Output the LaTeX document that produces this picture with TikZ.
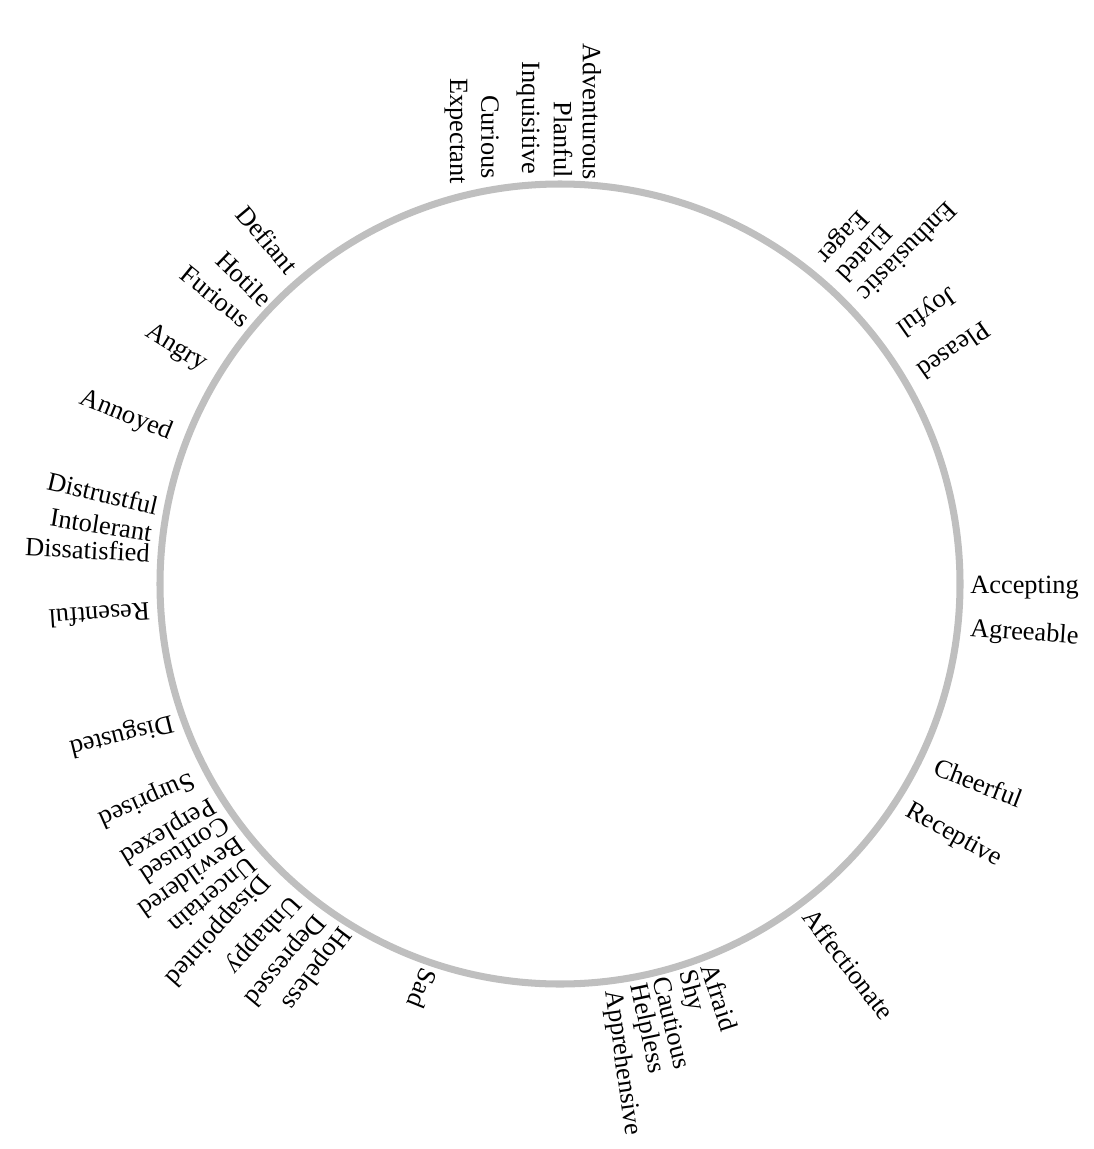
\documentclass[tikz,border=0pt]{standalone}
\usepackage{fontspec}
\setmainfont{Liberation Serif}
\usepackage{tikz}

\begin{document}
\begin{tikzpicture}[x=0.02cm, y=-0.02cm, line join=round, line cap=round]
	\def\cx{560} \def\cy{584} \def\R{400} % circle, in pixels of the page
	\tikzset{word/.style={inner sep=0pt, text=black, font=\fontsize{15}{17}\selectfont}}

	\useasboundingbox (0,0) rectangle (1093,1149);
	\draw[gray!50, line width=4pt] (\cx,\cy) circle (\R);

	% words read towards the centre: their end is on the circle
	\foreach \txt/\x/\y/\r [count=\i] in {Adventurous/592/180/-90, Planful/563/178/-90,
		Inquisitive/528/175/-90, Curious/490/179/-90, Expectant/456/184/-90,
		Defiant/293/270/-50, Hotile/268/302/-44, Furious/247/322/-39,
		Angry/205/366/-32, Annoyed/171/434/-22,
		Distrustful/158/506/-13, Intolerant/152/533/-9, Dissatisfied/150/553/-3,
		Eager/821/259/-133, Elated/842/279/-133, Enthusiastic/862/298/-135,
		Joyful/899/330/-145, Pleased/921/374/-145}
		\node[word, anchor=east, rotate=\r] (in\i) at (\x,\y) {\txt};

	% words read away from the centre: their start is on the circle
	\foreach \txt/\x/\y/\r [count=\i] in {Accepting/970/588/0, Agreeable/970/630/-4,
		Cheerful/935/766/-21, Receptive/907/810/-29, Affectionate/808/912/-52,
		Afraid/709/964/-72, Shy/685/971/-75, Cautious/661/977/-76,
		Helpless/637/984/-78, Apprehensive/612/990/-82,
		Sad/430/970/-112, Hopeless/345/929/-127, Depressed/320/917/-130,
		Unhappy/295/898/-132, Disappointed/264/877/-132, Uncertain/253/862/-140,
		Bewildered/242/843/-145, Confused/228/823/-147, Perplexed/213/803/-149,
		Surprised/193/778/-156, Disgusted/173/722/-166, Resentful/150/612/-176}
		\node[word, anchor=west, rotate=\r] (out\i) at (\x,\y) {\txt};
\end{tikzpicture}
\end{document}
